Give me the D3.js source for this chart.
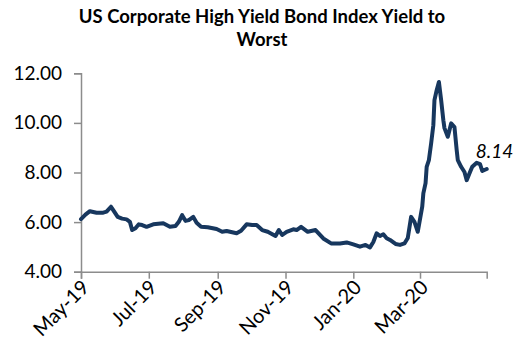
<!DOCTYPE html>
<html>
<head>
<meta charset="utf-8">
<script src="https://cdn.jsdelivr.net/npm/d3@7"></script>
<style>
  body { margin: 0; background: #fff; }
  svg text { font-family: Lato, "Open Sans", sans-serif; fill: #000; }
</style>
</head>
<body>
<div id="plot"></div>
<script>
// yield to worst
const dates = ["2019-05-01","2019-05-05","2019-05-09","2019-05-15","2019-05-21","2019-05-24","2019-05-28","2019-05-30",
  "2019-06-03","2019-06-07","2019-06-11","2019-06-14","2019-06-16","2019-06-19","2019-06-22","2019-06-25","2019-06-29",
  "2019-07-05","2019-07-14","2019-07-20","2019-07-25","2019-07-28","2019-07-31",
  "2019-08-03","2019-08-06","2019-08-10","2019-08-13","2019-08-17","2019-08-23","2019-08-31",
  "2019-09-05","2019-09-09","2019-09-18","2019-09-22","2019-09-27",
  "2019-10-02","2019-10-06","2019-10-11","2019-10-16","2019-10-23","2019-10-26","2019-10-29",
  "2019-11-02","2019-11-08","2019-11-11","2019-11-15","2019-11-21","2019-11-28",
  "2019-12-05","2019-12-12","2019-12-20","2019-12-26",
  "2020-01-01","2020-01-07","2020-01-12","2020-01-16","2020-01-19","2020-01-22","2020-01-25","2020-01-28","2020-01-31",
  "2020-02-03","2020-02-08","2020-02-12","2020-02-16","2020-02-19","2020-02-22","2020-02-25","2020-02-28",
  "2020-03-03","2020-03-04","2020-03-06","2020-03-07","2020-03-09","2020-03-11","2020-03-13","2020-03-14","2020-03-16",
  "2020-03-18","2020-03-20","2020-03-22","2020-03-23","2020-03-26","2020-03-29",
  "2020-04-01","2020-04-03","2020-04-04","2020-04-07","2020-04-10","2020-04-12","2020-04-15","2020-04-17","2020-04-21",
  "2020-04-24","2020-04-26","2020-04-30"];
const yields = [6.12,6.30,6.44,6.38,6.38,6.42,6.62,6.48,
  6.21,6.14,6.11,6.01,5.68,5.75,5.91,5.88,5.81,
  5.91,5.95,5.81,5.84,6.01,6.28,
  6.05,6.08,6.21,5.97,5.81,5.79,5.72,
  5.61,5.64,5.55,5.65,5.91,
  5.88,5.88,5.68,5.61,5.44,5.68,5.48,
  5.61,5.71,5.68,5.81,5.61,5.68,
  5.34,5.14,5.14,5.18,
  5.10,5.01,5.08,4.98,5.20,5.55,5.44,5.51,5.35,
  5.28,5.12,5.08,5.14,5.36,6.21,6.01,5.61,
  6.62,7.16,7.57,8.23,8.50,9.17,9.91,10.92,11.32,
  11.65,10.92,10.11,9.79,9.44,9.98,
  9.83,8.90,8.50,8.23,8.02,7.69,8.02,8.23,8.39,
  8.34,8.06,8.14];
const tickDates = ["2019-05-01","2019-07-01","2019-09-01","2019-11-01","2020-01-01","2020-03-01"];
const yTicks = [4, 6, 8, 10, 12];
const titleLines = ["US Corporate High Yield Bond Index Yield to", "Worst"];
const lastLabel = "8.14";

const width = 524, height = 349;
const parse = d3.timeParse("%Y-%m-%d");
const data = dates.map((d, i) => ({ date: parse(d), value: yields[i] }));

const svg = d3.select("div#plot")
  .append("svg")
  .attr("width", width)
  .attr("height", height);

const x = d3.scaleTime()
  .domain([parse("2019-05-01"), parse("2020-04-30")])
  .range([81, 486.7]);

const y = d3.scaleLinear()
  .domain([4, 12])
  .range([271.7, 73.3]);

// title
svg.append("text")
  .attr("x", 262)
  .attr("y", 23)
  .attr("text-anchor", "middle")
  .style("font-weight", "bold")
  .style("font-size", "18.5px")
  .selectAll("tspan")
  .data(titleLines)
  .join("tspan")
  .attr("x", 262)
  .attr("dy", (d, i) => i === 0 ? 0 : 22.5)
  .text(d => d);

// y axis
const yAxis = svg.append("g")
  .attr("transform", "translate(81,0)")
  .call(d3.axisLeft(y).tickValues(yTicks).tickFormat(d3.format(".2f")).tickSizeOuter(0).tickSize(7).tickPadding(12));

// x axis
const xAxis = svg.append("g")
  .attr("transform", "translate(0,271.7)")
  .call(d3.axisBottom(x).tickValues(tickDates.map(parse)).tickFormat(d3.timeFormat("%b-%y")).tickSizeOuter(0).tickSize(7));

[yAxis, xAxis].forEach(function(g) {
  g.select(".domain").attr("stroke", "#8c8c8c").attr("stroke-width", 1.5);
  g.selectAll(".tick line").attr("stroke", "#8c8c8c").attr("stroke-width", 1.5);
  g.selectAll("text").style("font-size", "19px").attr("fill", "#000");
});

xAxis.selectAll("text")
  .style("font-size", "20px")
  .attr("text-anchor", "end")
  .attr("y", 0)
  .attr("dy", "0.35em")
  .attr("transform", "translate(4,12) rotate(-45)");

// series
const line = d3.line()
  .x(d => x(d.date))
  .y(d => y(d.value));

svg.append("path")
  .datum(data)
  .attr("fill", "none")
  .attr("stroke", "#17375e")
  .attr("stroke-width", 4)
  .attr("stroke-linejoin", "round")
  .attr("stroke-linecap", "round")
  .attr("d", line);

const last = data[data.length - 1];
svg.append("text")
  .attr("x", x(last.date) - 11)
  .attr("y", y(last.value) - 11)
  .style("font-style", "italic")
  .style("font-size", "19px")
  .text(lastLabel);
</script>
</body>
</html>
